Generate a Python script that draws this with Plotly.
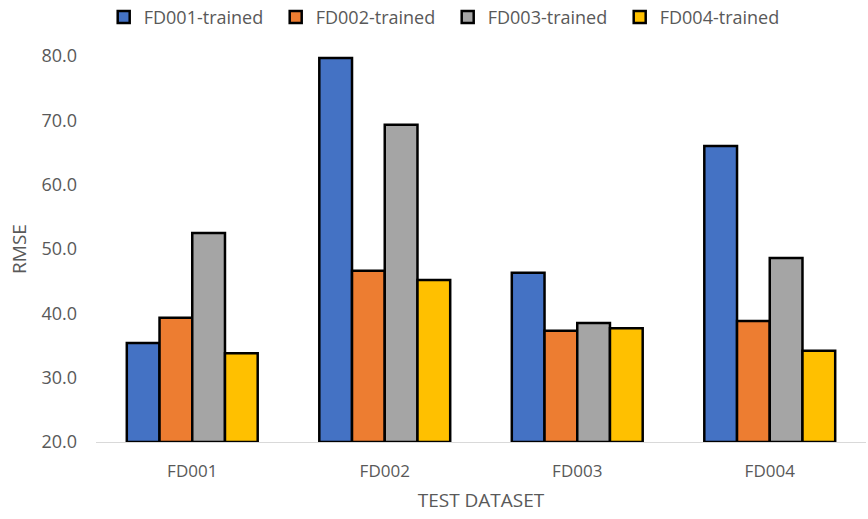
import plotly.graph_objects as go

categories = ["FD001", "FD002", "FD003", "FD004"]
series_names = ["FD001-trained", "FD002-trained", "FD003-trained", "FD004-trained"]
fd001_trained = [35.4, 79.7, 46.3, 66.0]
fd002_trained = [39.3, 46.6, 37.3, 38.8]
fd003_trained = [52.5, 69.3, 38.5, 48.6]
fd004_trained = [33.8, 45.2, 37.7, 34.2]
colors = ["#4472C4", "#ED7D31", "#A5A5A5", "#FFC000"]
y_ticks = [20, 30, 40, 50, 60, 70, 80]

fig = go.Figure()
for name, vals, col in zip(series_names,
                           [fd001_trained, fd002_trained, fd003_trained, fd004_trained],
                           colors):
    fig.add_trace(go.Bar(
        x=categories, y=[v - 20 for v in vals], base=20, name=name,
        marker=dict(color=col, line=dict(color="black", width=2.5)),
    ))

font_family = "Open Sans, Noto Sans, sans-serif"
fig.update_layout(
    width=868, height=519,
    barmode="group", bargap=0.32, bargroupgap=0,
    plot_bgcolor="white", paper_bgcolor="white",
    margin=dict(l=96, r=2, t=56, b=77, autoexpand=False),
    font=dict(family=font_family, color="#595959", size=16),
    legend=dict(orientation="h", x=0.01, xanchor="left", y=1.1, yanchor="middle",
                font=dict(size=18, color="#595959"), traceorder="normal",
                itemwidth=30, entrywidth=127, entrywidthmode="pixels"),
    xaxis=dict(showline=True, linecolor="#D9D9D9", linewidth=1, ticks="",
               tickfont=dict(size=17, color="#595959"), ticklabelstandoff=14,
               title=dict(text="TEST DATASET", font=dict(size=19, color="#595959"), standoff=12)),
    yaxis=dict(range=[20, 80], tickvals=y_ticks, ticktext=[f"{t:.1f}" for t in y_ticks],
               showgrid=False, zeroline=False, showline=False,
               tickfont=dict(size=18, color="#595959"), ticks="", ticklen=0,
               ticklabelstandoff=18,
               title=dict(text="RMSE", font=dict(size=19, color="#595959"), standoff=9)),
)
fig.write_html("out.html", config={"displayModeBar": False},
               post_script="document.body.style.margin='0';")
